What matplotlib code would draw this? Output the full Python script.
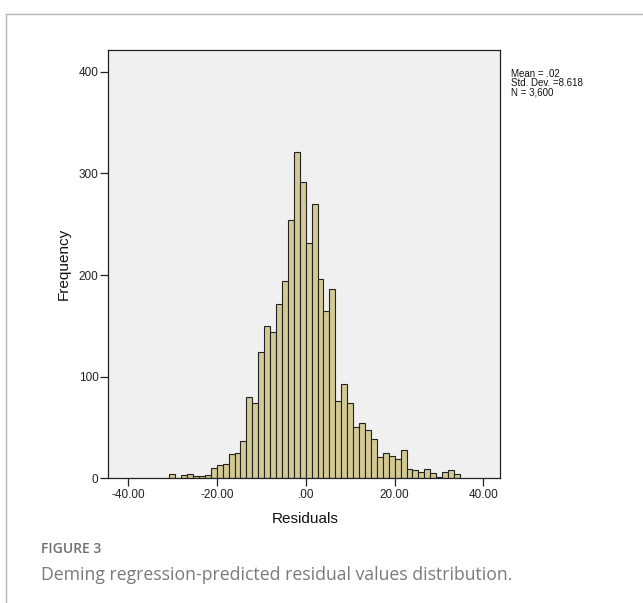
import matplotlib
matplotlib.use("Agg")  # headless
import matplotlib.pyplot as plt
import numpy as np
from matplotlib.lines import Line2D

# ── Data ──────────────────────────────────────────────────────────────────────

bin_start = -30.72
bin_width = 1.3356
counts = [
    4, 0, 3, 4, 2, 2, 3, 10, 13, 14, 24, 25, 37, 80, 74,
    124, 150, 144, 172, 194, 254, 321, 292, 232, 270, 196, 165, 186, 76, 93,
    74, 50, 54, 48, 39, 21, 25, 22, 19, 28, 9, 8, 6, 9, 5, 1, 6, 8, 4,
]
x_ticks = [-40, -20, 0, 20, 40]
x_tick_labels = ["-40.00", "-20.00", ".00", "20.00", "40.00"]
y_ticks = [0, 100, 200, 300, 400]
stats_lines = ["Mean = .02", "Std. Dev. =8.618", "N = 3,600"]
fig_label = "FIGURE 3"
caption = "Deming regression-predicted residual values distribution."

# ── Layout helpers ────────────────────────────────────────────────────────────

W, H = 643, 603


def fx(px):
    return px / W


def fy(py):
    return 1 - py / H


plt.rcParams["font.family"] = ["Liberation Sans", "DejaVu Sans"]

fig = plt.figure(figsize=(W / 100, H / 100), dpi=100)
fig.patch.set_facecolor("white")

# plot box in pixel coords: left 108, right 500, top 50, bottom 478
ax = fig.add_axes([fx(108.3), fy(478.3), fx(500) - fx(108.3), fy(50) - fy(478.3)])
ax.set_facecolor("#f0f0f0")

edges = bin_start + bin_width * np.arange(len(counts))
ax.bar(edges, counts, width=bin_width, align="edge",
       color="#d3c994", edgecolor="#222222", linewidth=0.8)

ax.set_xlim(-44.46, 43.76)
ax.set_ylim(0, 421.5)
ax.set_xticks(x_ticks)
ax.set_xticklabels(x_tick_labels)
ax.set_yticks(y_ticks)
ax.tick_params(axis="both", direction="out", length=6, width=0.9,
               color="#222222", labelsize=8.5, labelcolor="#222222")
ax.tick_params(axis="y", pad=1)
ax.tick_params(axis="x", pad=2)
for side, sp in ax.spines.items():
    sp.set_color("#222222")
    sp.set_linewidth(0.9)

# axis titles
fig.text(fx(64), fy(264), "Frequency", rotation=90, ha="center", va="center",
         fontsize=11, color="#111111")
fig.text(fx(305), fy(519), "Residuals", ha="center", va="center",
         fontsize=11, color="#111111")

# summary statistics box text
fig.text(fx(510.7), fy(69), "\n".join(stats_lines), ha="left", va="top",
         fontsize=7, linespacing=0.9, color="#111111")

# caption
fig.text(fx(41), fy(549), fig_label, ha="left", va="center",
         fontsize=10, fontweight="semibold", color="#707070",
         family=["Open Sans", "DejaVu Sans"])
fig.text(fx(41), fy(575), caption, ha="left", va="center",
         fontsize=12.7, color="#7a7a7a", family=["Open Sans", "DejaVu Sans"])

# light frame around the figure panel
fig.add_artist(Line2D([fx(6.3), fx(6.3), fx(W + 5)], [fy(H + 5), fy(14.3), fy(14.3)],
                      transform=fig.transFigure, color="#b5b5b5", linewidth=1))

fig.savefig("out.png", dpi=100)
plt.close(fig)
